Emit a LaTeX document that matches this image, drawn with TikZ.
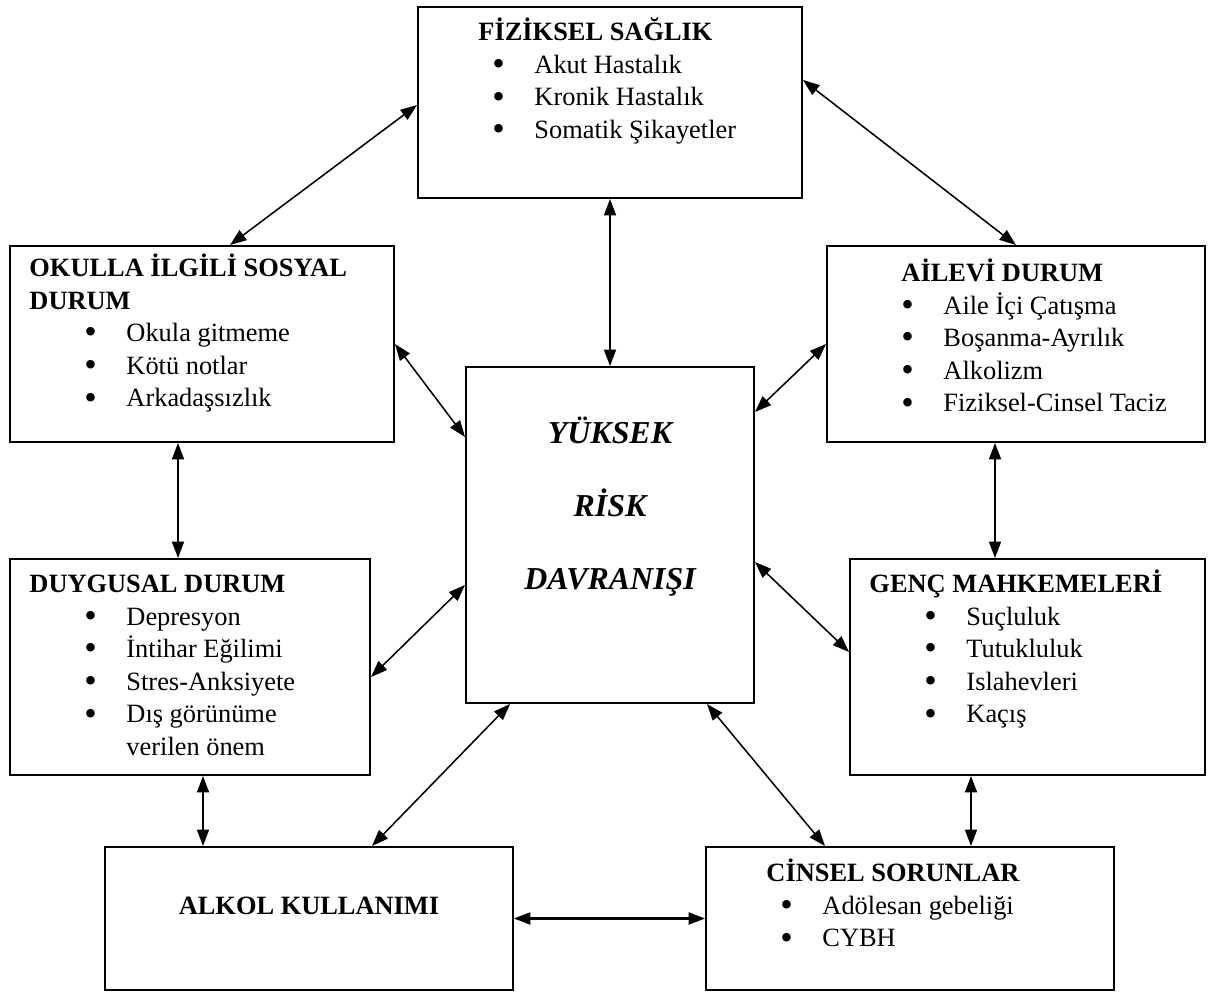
\documentclass[tikz,border=0pt]{standalone}
\usepackage{fontspec}
\setmainfont{Liberation Serif}
\usetikzlibrary{arrows.meta,calc}

\newdimen\pxl \pxl=0.4545pt
\newcommand{\itm}[1]{\hspace*{55\pxl}\makebox[42\pxl][l]{\raisebox{-0.2ex}{\scalebox{1.35}{\textbullet}}}#1}

\tikzset{
  box/.style={draw, line width=0.9pt, inner sep=0pt},
  txt/.style={anchor=north west, inner sep=0pt, align=left,
    font=\fontsize{12}{14.8}\selectfont},
  link/.style={{Triangle[length=7.5pt,width=5.5pt]}-{Triangle[length=7.5pt,width=5.5pt]},
    line width=0.7pt}
}

\begin{document}
\begin{tikzpicture}[x=0.4545pt, y=-0.4545pt]
    \useasboundingbox (0,0) rectangle (1211,994);

    % boxes
    \node [box, minimum width=384*\pxl, minimum height=191*\pxl] (fiz)    at ( 610, 102.5) {};
    \node [box, minimum width=384*\pxl, minimum height=196*\pxl] (okul)   at ( 202, 344)   {};
    \node [box, minimum width=378*\pxl, minimum height=196*\pxl] (aile)   at (1016, 344)   {};
    \node [box, minimum width=288*\pxl, minimum height=336*\pxl] (risk)   at ( 610, 535)   {};
    \node [box, minimum width=360*\pxl, minimum height=216*\pxl] (duygu)  at ( 190, 667)   {};
    \node [box, minimum width=355*\pxl, minimum height=216*\pxl] (genc)   at (1027.5, 667) {};
    \node [box, minimum width=408*\pxl, minimum height=143*\pxl] (alkol)  at ( 309, 918.5) {};
    \node [box, minimum width=408*\pxl, minimum height=143*\pxl] (cinsel) at ( 910, 918.5) {};

    % texts
    \node [txt] (fiztxt) at ($(fiz.north west)+(20,11.2)$)
      {\strut\hspace*{41\pxl}\textbf{FİZİKSEL SAĞLIK}\\
       \itm{Akut Hastalık}\\ \itm{Kronik Hastalık}\\ \itm{Somatik Şikayetler}};
    \node [txt] (okultxt) at ($(okul.north west)+(20,8.2)$)
      {\strut\textbf{OKULLA İLGİLİ SOSYAL}\\ \textbf{DURUM}\\
       \itm{Okula gitmeme}\\ \itm{Kötü notlar}\\ \itm{Arkadaşsızlık}};
    \node [txt] (ailetxt) at ($(aile.north west)+(20,13.2)$)
      {\strut\hspace*{55\pxl}\textbf{AİLEVİ DURUM}\\
       \itm{Aile İçi Çatışma}\\ \itm{Boşanma-Ayrılık}\\ \itm{Alkolizm}\\ \itm{Fiziksel-Cinsel Taciz}};
    \node [txt] (duygutxt) at ($(duygu.north west)+(20,11.2)$)
      {\strut\textbf{DUYGUSAL DURUM}\\
       \itm{Depresyon}\\ \itm{İntihar Eğilimi}\\ \itm{Stres-Anksiyete}\\ \itm{Dış görünüme}\\
       \hspace*{97\pxl}verilen önem};
    \node [txt] (genctxt) at ($(genc.north west)+(20,11.2)$)
      {\strut\textbf{GENÇ MAHKEMELERİ}\\
       \itm{Suçluluk}\\ \itm{Tutukluluk}\\ \itm{Islahevleri}\\ \itm{Kaçış}};
    \node [txt] (cinseltxt) at ($(cinsel.north west)+(20,12.2)$)
      {\strut\hspace*{41\pxl}\textbf{CİNSEL SORUNLAR}\\
       \itm{Adölesan gebeliği}\\ \itm{CYBH}};
    \node [anchor=base, inner sep=0pt, font=\fontsize{12}{14.8}\selectfont\bfseries]
      (alkoltxt) at ($(alkol.center)+(0,-4.5)$) {ALKOL KULLANIMI};
    \node [anchor=north, inner sep=0pt, align=center,
      font=\fontsize{14.5}{33.2}\selectfont\bfseries\itshape]
      (risktxt) at ($(risk.north)+(0,25.9)$) {\strut YÜKSEK\\ RİSK\\ DAVRANIŞI};

    % connectors
    \draw [link] ($(fiz.west)+(0,2.5)$) -- ($(okul.north)+(28,0)$);
    \draw [link] ($(fiz.east)+(0,-22.5)$) -- (aile.north);
    \draw [link] (fiz.south) -- (risk.north);

    \draw [link] (okul.east) -- ($(risk.west)+(0,-98)$);
    \draw [link] (aile.west) -- ($(risk.east)+(0,-123)$);
    \draw [link] ($(okul.south)+(-24,0)$) -- ($(duygu.north)+(-12,0)$);
    \draw [link] ($(aile.south)+(-21,0)$) -- ($(genc.north)+(-32.5,0)$);

    \draw [link] ($(duygu.east)+(0,10)$) -- ($(risk.west)+(0,50)$);
    \draw [link] ($(genc.west)+(0,-15)$) -- ($(risk.east)+(0,27)$);
    \draw [link] ($(duygu.south)+(13,0)$) -- ($(alkol.north)+(-106,0)$);
    \draw [link] ($(genc.south)+(-56.5,0)$) -- ($(cinsel.north)+(61,0)$);

    \draw [link] ($(risk.south)+(-100,0)$) -- ($(alkol.north)+(63,0)$);
    \draw [link] ($(risk.south)+(97,0)$) -- ($(cinsel.north)+(-85,0)$);
    \draw [link, line width=1pt] (alkol.east) -- (cinsel.west);

  \end{tikzpicture}
\end{document}
